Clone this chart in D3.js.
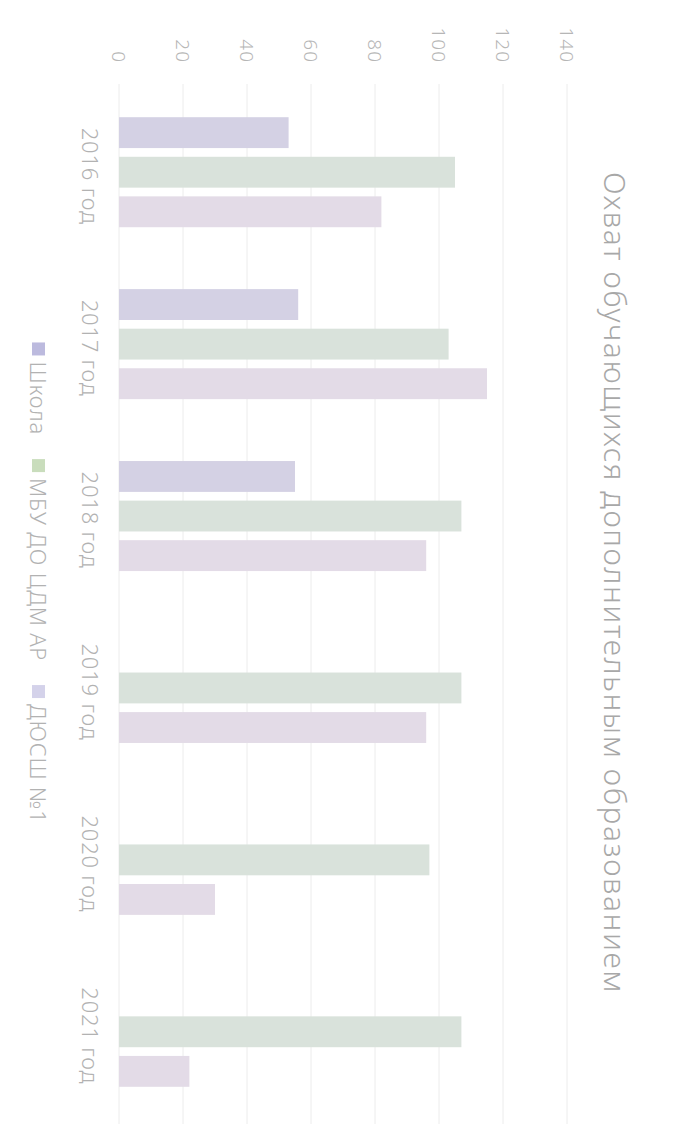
<!DOCTYPE html>
<html>
<head>
<meta charset="utf-8">
<script src="https://cdn.jsdelivr.net/npm/d3@7"></script>
<style>
  body { margin: 0; background: #fff; }
  text { font-family: "Noto Sans", "DejaVu Sans", sans-serif; }
</style>
</head>
<body>
<div id="chart"></div>
<script>
// данные диаграммы
const years = ["2016 год", "2017 год", "2018 год", "2019 год", "2020 год", "2021 год"];
const seriesNames = ["Школа", "МБУ ДО ЦДМ АР", "ДЮСШ №1"];
const shkola = [53, 56, 55, 0, 0, 0];
const mbu = [105, 103, 107, 107, 97, 107];
const dyussh = [82, 115, 96, 96, 30, 22];
const tickValues = [0, 20, 40, 60, 80, 100, 120, 140];
const title = "Охват обучающихся дополнительным образованием";

const seriesValues = [shkola, mbu, dyussh];
const barColors = ["#d4d1e4", "#d9e2db", "#e3dbe7"];
const legendColors = ["#bcbade", "#c9ddbc", "#d4d2ea"];

// страница повернута: рисуем в "лежачей" системе и поворачиваем на 90°
const pageW = 674, pageH = 1141;

const svg = d3.select("#chart").append("svg")
    .attr("width", pageW)
    .attr("height", pageH);

const g = svg.append("g")
    .attr("transform", `translate(${pageW},0) rotate(90)`);

const x0 = d3.scaleBand()
    .domain(years)
    .range([86, 1118])
    .paddingInner(0.337)
    .paddingOuter(0.17);

const x1 = d3.scaleBand()
    .domain(seriesNames)
    .range([0, x0.bandwidth()])
    .paddingInner(0.22)
    .paddingOuter(0.05);

const y = d3.scaleLinear()
    .domain([0, 140])
    .range([555, 107]);

// сетка
g.append("g")
  .selectAll("line")
  .data(tickValues)
  .enter().append("line")
    .attr("x1", 84)
    .attr("x2", 1124)
    .attr("y1", d => y(d))
    .attr("y2", d => y(d))
    .attr("stroke", "#ececec")
    .attr("stroke-width", 1);

// ось значений
const yAxis = d3.axisLeft(y).tickValues(tickValues).tickSize(0).tickPadding(0);
const axisG = g.append("g")
    .attr("transform", "translate(63,0)")
    .call(yAxis);
axisG.select(".domain").remove();
axisG.selectAll("text")
    .attr("fill", "#b6b6b6")
    .attr("font-size", 19)
    .attr("font-weight", 300)
    .attr("letter-spacing", 1)
    .attr("dy", "0.35em");

// столбцы
const groups = g.append("g")
  .selectAll("g")
  .data(years)
  .enter().append("g")
    .attr("transform", d => `translate(${x0(d)},0)`);

groups.selectAll("rect")
  .data((d, i) => seriesNames.map((s, k) => ({ s: s, k: k, v: seriesValues[k][i] })))
  .enter().append("rect")
    .attr("x", d => x1(d.s))
    .attr("width", x1.bandwidth())
    .attr("y", d => y(d.v))
    .attr("height", d => y(0) - y(d.v))
    .attr("fill", d => barColors[d.k]);

// подписи категорий
g.append("g")
  .selectAll("text")
  .data(years)
  .enter().append("text")
    .attr("x", d => x0(d) + x0.bandwidth() / 2 + 4)
    .attr("y", 592)
    .attr("text-anchor", "middle")
    .attr("font-size", 22)
    .attr("font-weight", 300)
    .attr("letter-spacing", 0.8)
    .attr("fill", "#b2b2b2")
    .text(d => d);

// заголовок
g.append("text")
    .attr("x", 583)
    .attr("y", 70)
    .attr("text-anchor", "middle")
    .attr("font-size", 30)
    .attr("font-weight", 300)
    .attr("letter-spacing", 1.6)
    .attr("fill", "#a8a8a8")
    .text(title);

// легенда
const legend = g.append("g");
let lx = 0;
const items = legend.selectAll("g")
  .data(seriesNames)
  .enter().append("g");
items.append("rect")
    .attr("y", -7)
    .attr("width", 13)
    .attr("height", 13)
    .attr("fill", (d, i) => legendColors[i]);
items.append("text")
    .attr("x", 19)
    .attr("y", 8)
    .attr("font-size", 22)
    .attr("font-weight", 300)
    .attr("letter-spacing", 0.8)
    .attr("fill", "#b2b2b2")
    .text(d => d);
items.each(function() {
    const w = this.getBBox().width;
    d3.select(this).attr("transform", `translate(${lx},0)`);
    lx += w + 24;
});
const legendW = lx - 24;
legend.attr("transform", `translate(${583 - legendW / 2},636)`);
</script>
</body>
</html>
